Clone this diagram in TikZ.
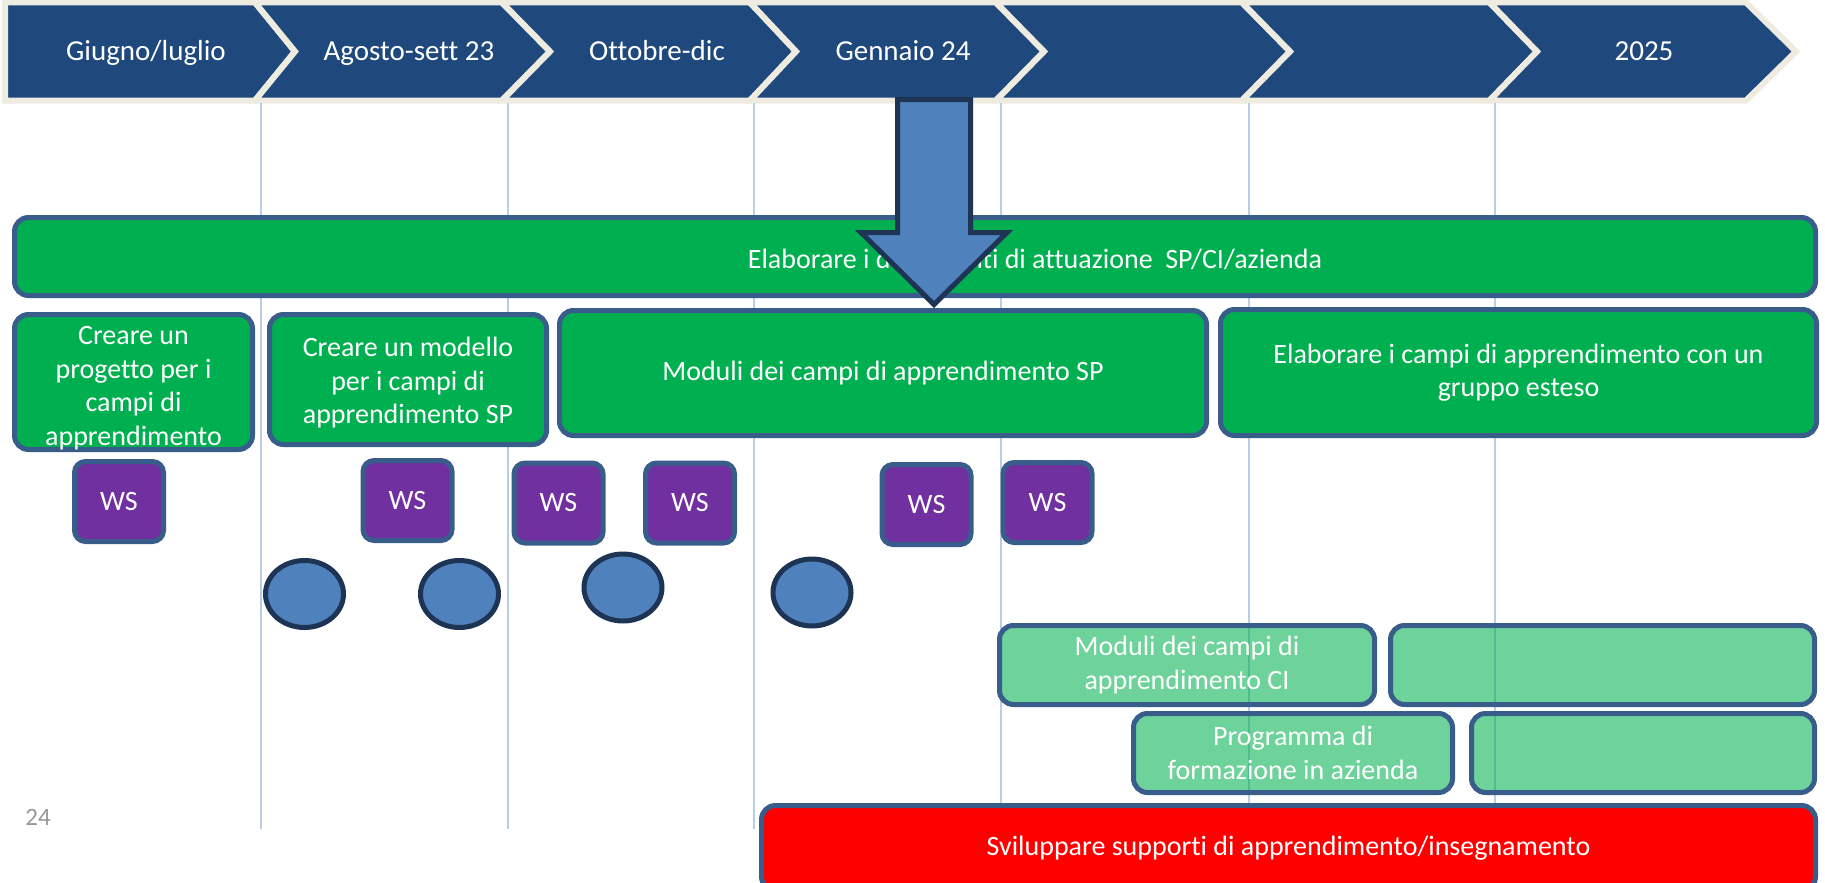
\documentclass[tikz,border=0pt]{standalone}
\usepackage{fontspec}
\setmainfont{Carlito}[Ligatures={NoCommon}]
\usetikzlibrary{shapes.geometric}
\definecolor{bannerblue}{RGB}{31,73,125}
\definecolor{beige}{RGB}{238,236,225}
\definecolor{vline}{RGB}{185,205,229}
\definecolor{ogreen}{RGB}{0,176,80}
\definecolor{bord}{RGB}{56,93,138}
\definecolor{opurple}{RGB}{112,48,160}
\definecolor{arrowfill}{RGB}{79,129,189}
\definecolor{darknavy}{RGB}{30,52,84}
\definecolor{numgray}{RGB}{152,152,152}
\begin{document}
\begin{tikzpicture}[x=1pt,y=-1pt,
  chev/.style={fill=bannerblue, draw=beige, line width=6pt, line join=miter},
  bantext/.style={text=white, font=\fontsize{29}{35}\selectfont, anchor=base, inner sep=0pt},
  boxtext/.style={text=white, align=center, inner sep=0pt, font=\fontsize{28}{33.5}\selectfont},
  box/.style={draw=bord, line width=5pt, rounded corners=14pt, inner sep=0pt, text=white, align=center, font=\fontsize{28}{33.5}\selectfont},
  greenbox/.style={box, fill=ogreen},
  ws/.style={box, fill=opurple, rounded corners=11pt, minimum width=89pt, minimum height=80pt},
  dot/.style={ellipse, draw=darknavy, line width=5pt, fill=arrowfill, minimum width=78pt, minimum height=67pt, inner sep=0pt},
  lightbox/.style={box, fill=ogreen, fill opacity=0.57, text opacity=1, minimum height=79pt},
  vl/.style={draw=vline, line width=2pt}
]
\useasboundingbox (0,0) rectangle (1825,883);
\clip (0,0) rectangle (1825,883);

% banner chevrons
\path[chev] (5,2.5) -- (255,2.5) -- (295,51.5) -- (255,100.5) -- (5,100.5) -- cycle;
\path[chev] (255,2.5) -- (502,2.5) -- (550,51.5) -- (502,100.5) -- (255,100.5) -- (295,51.5) -- cycle;
\path[chev] (502,2.5) -- (750,2.5) -- (796,51.5) -- (750,100.5) -- (502,100.5) -- (550,51.5) -- cycle;
\path[chev] (750,2.5) -- (996,2.5) -- (1044,51.5) -- (996,100.5) -- (750,100.5) -- (796,51.5) -- cycle;
\path[chev] (996,2.5) -- (1242,2.5) -- (1290,51.5) -- (1242,100.5) -- (996,100.5) -- (1044,51.5) -- cycle;
\path[chev] (1242,2.5) -- (1489.5,2.5) -- (1537,51.5) -- (1489.5,100.5) -- (1242,100.5) -- (1290,51.5) -- cycle;
\path[chev] (1489.5,2.5) -- (1746,2.5) -- (1796,51.5) -- (1746,100.5) -- (1489.5,100.5) -- (1537,51.5) -- cycle;

\node[bantext] (t1) at (146,61) {Giugno/luglio};
\node[bantext] (t2) at (409,61) {Agosto-sett 23};
\node[bantext] (t3) at (657,61) {Ottobre-dic};
\node[bantext] (t4) at (903,61) {Gennaio 24};
\node[bantext] (t7) at (1644,61) {2025};

% vertical guide lines
\foreach \x in {261,508,754,1001,1249,1495} \draw[vl] (\x,103) -- (\x,829);

% main bar
\node[greenbox, minimum width=1801pt, minimum height=78pt] (elab) at (915,256.5) {};
\node[boxtext, anchor=base] (elabtext) at (1035,268) {Elaborare i documenti di attuazione\ \ SP/CI/azienda};

% second row
\node[greenbox, minimum width=238pt, minimum height=135pt] (boxA) at (133.5,382) {};
\node[boxtext] (boxAtext) at (133.5,388) {Creare un\\progetto per i\\campi di\\apprendimento};
\node[greenbox, minimum width=277pt, minimum height=130pt] (boxB) at (408,379.5) {};
\node[boxtext] (boxBtext) at (408,383) {Creare un modello\\per i campi di\\apprendimento SP};
\node[greenbox, minimum width=647pt, minimum height=125pt] (boxC) at (883,373) {Moduli dei campi di apprendimento SP};
\node[greenbox, minimum width=596pt, minimum height=126pt] (boxD) at (1518.5,372.5) {Elaborare i campi di apprendimento con un\\gruppo esteso};

% workshops
\node[ws] (ws1) at (119,501.5) {WS};
\node[ws] (ws2) at (407.5,500.5) {WS};
\node[ws] (ws3) at (558.5,503) {WS};
\node[ws] (ws4) at (690,503) {WS};
\node[ws] (ws5) at (926.5,504.5) {WS};
\node[ws] (ws6) at (1047.5,502.5) {WS};

% circles
\node[dot] (c1) at (304.5,594) {};
\node[dot] (c2) at (459.5,594) {};
\node[dot] (c3) at (623,587.5) {};
\node[dot] (c4) at (812,592.5) {};

% light green boxes
\node[lightbox, minimum width=375pt] (lg1) at (1187,665) {Moduli dei campi di\\apprendimento CI};
\node[lightbox, minimum width=424pt] (lg2) at (1602.5,665) {};
\node[lightbox, minimum width=319pt] (lg3) at (1293,753) {Programma di\\formazione in azienda};
\node[lightbox, minimum width=343pt] (lg4) at (1643,753) {};

% red bar
\node[box, fill=red, minimum width=1054pt, minimum height=85pt] (redbar) at (1288.5,848) {Sviluppare supporti di apprendimento/insegnamento};

% slide number
\node[text=numgray, font=\fontsize{25}{30}\selectfont, inner sep=0pt] (pagenum) at (38,817) {24};

% big arrow
\draw[fill=arrowfill, draw=darknavy, line width=5pt, line join=miter] (897.5,99.5) -- (970.5,99.5) -- (970.5,232.5) -- (1007,232.5) -- (934,304.5) -- (861,232.5) -- (897.5,232.5) -- cycle;
\end{tikzpicture}
\end{document}
